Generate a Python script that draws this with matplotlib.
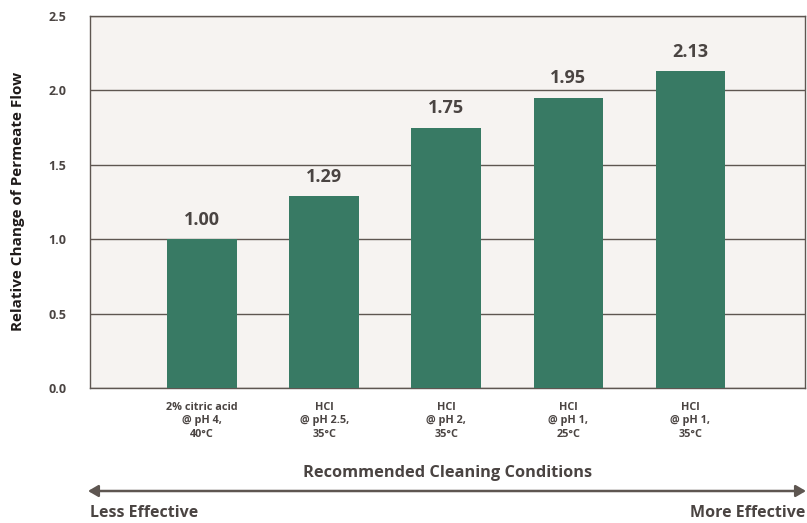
import numpy as np
import matplotlib.pyplot as plt

categories = ["2% citric acid\n@ pH 4,\n40°C", "HCl\n@ pH 2.5,\n35°C", "HCl\n@ pH 2,\n35°C",
              "HCl\n@ pH 1,\n25°C", "HCl\n@ pH 1,\n35°C"]
flow_change = [1.00, 1.29, 1.75, 1.95, 2.13]
value_labels = ["1.00", "1.29", "1.75", "1.95", "2.13"]
y_ticks = [0.0, 0.5, 1.0, 1.5, 2.0, 2.5]

text_col = "#4a4442"
line_col = "#5e5651"
bar_col = "#387a64"

plt.rcParams['font.family'] = ['Open Sans', 'DejaVu Sans']

fig = plt.figure(figsize=(8.07, 5.23), dpi=100)
ax = fig.add_axes([0.1115, 0.2581, 0.886, 0.7113])
ax.set_facecolor("#f6f3f1")

x = np.arange(len(categories))
ax.bar(x, flow_change, width=0.57, color=bar_col, zorder=3)
for xi, v, lab in zip(x, flow_change, value_labels):
    ax.text(xi, v + 0.07, lab, ha="center", va="bottom", fontsize=13,
            fontweight="bold", color=text_col, zorder=4)

ax.set_ylim(0, 2.5)
ax.set_xlim(-0.92, 4.94)
ax.set_yticks(y_ticks)
ax.set_yticklabels(["%.1f" % t for t in y_ticks], fontsize=9, fontweight="bold", color=text_col)
ax.yaxis.grid(True, color=line_col, linewidth=1.0, zorder=1)
ax.tick_params(axis="y", length=0, pad=17)
ax.set_xticks(x)
ax.set_xticklabels(categories, fontsize=7.8, fontweight="bold", color=text_col, linespacing=1.3)
ax.tick_params(axis="x", length=0, pad=10)
for s in ax.spines.values():
    s.set_color(line_col)
    s.set_linewidth(1.0)

fig.text(18 / 807, 0.614, "Relative Change of Permeate Flow", rotation=90, ha="center", va="center",
         fontsize=11, fontweight="bold", color="#1e1a19")
fig.text(448 / 807, 1 - 473 / 523, "Recommended Cleaning Conditions", ha="center", va="center",
         fontsize=11.8, fontweight="bold", color=text_col)
fig.text(90 / 807, 1 - 513 / 523, "Less Effective", ha="left", va="center",
         fontsize=11.5, fontweight="bold", color=text_col)
fig.text(805 / 807, 1 - 513 / 523, "More Effective", ha="right", va="center",
         fontsize=11.5, fontweight="bold", color=text_col)
fig.add_artist(plt.matplotlib.patches.FancyArrowPatch(
    (88 / 807, 1 - 491 / 523), (806 / 807, 1 - 491 / 523), transform=fig.transFigure,
    arrowstyle="<|-|>,head_length=6,head_width=3.5", color=line_col, linewidth=1.8,
    shrinkA=0, shrinkB=0))

fig.savefig("out.png", dpi=100, facecolor="white")
